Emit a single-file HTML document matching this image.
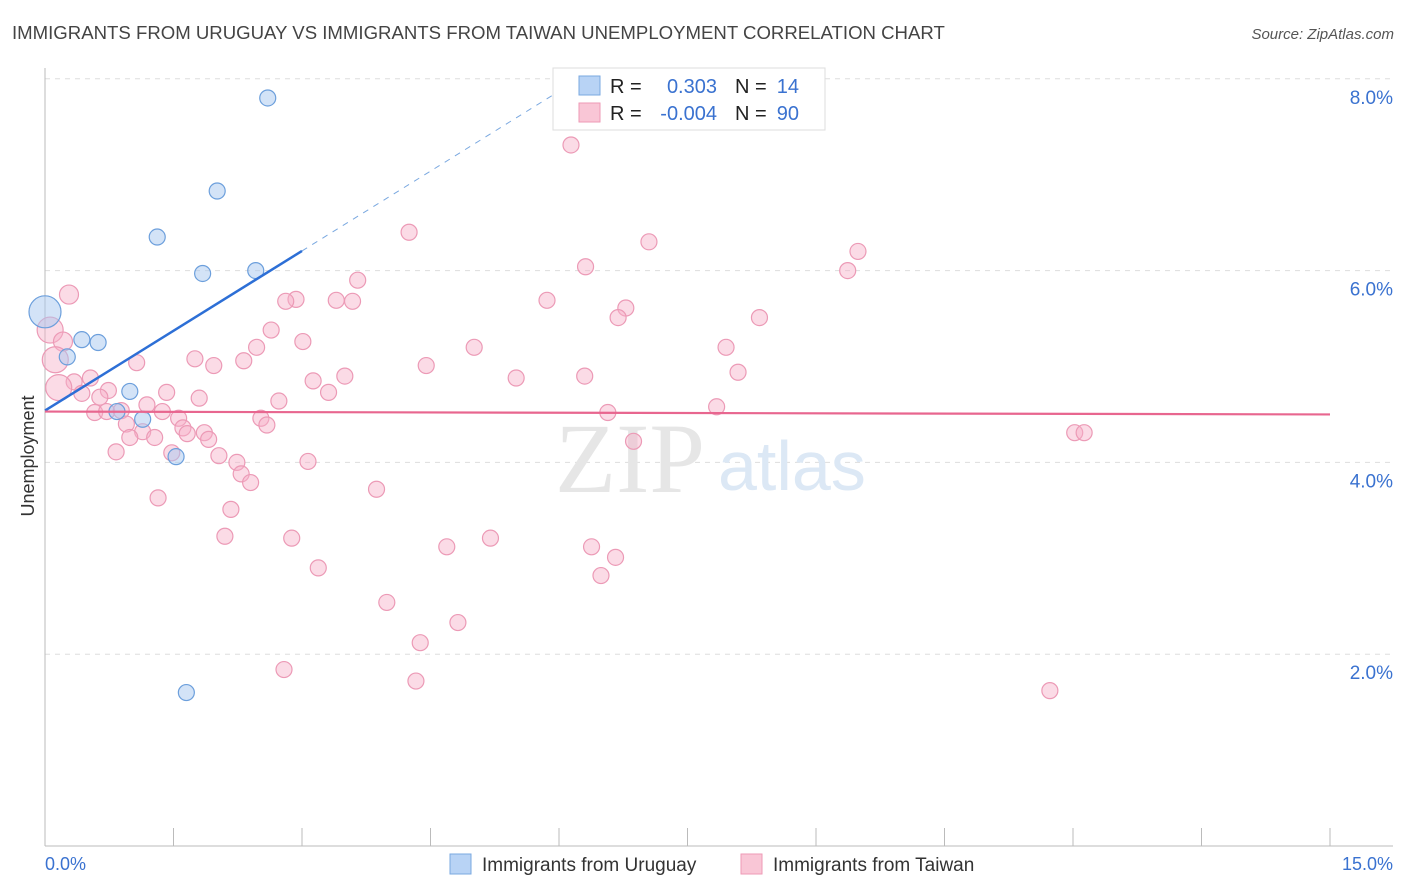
<!DOCTYPE html>
<html><head><meta charset="utf-8"><style>
body{margin:0;background:#fff;font-family:"Liberation Sans",sans-serif;}
svg{display:block}
</style></head><body>
<svg id="chart" width="1406" height="892">
<text x="12" y="39" font-size="18.6" fill="#444">IMMIGRANTS FROM URUGUAY VS IMMIGRANTS FROM TAIWAN UNEMPLOYMENT CORRELATION CHART</text>
<text x="1394" y="39" font-size="15" fill="#555" font-style="italic" text-anchor="end">Source: ZipAtlas.com</text>
<text transform="translate(34,456) rotate(-90)" font-size="18" fill="#333" text-anchor="middle">Unemployment</text>
<g id="grid"></g>
<text x="555" y="492" font-size="100" fill="#e6e6e6" font-family="Liberation Serif">ZIP</text>
<text x="718" y="490" font-size="70" fill="#dce8f5">atlas</text>
<g id="marks"></g>
<g id="lines"></g>
<g>
<rect x="553" y="68" width="272" height="62" fill="#fff" stroke="#ddd"/>
<rect x="579" y="76" width="21" height="19" fill="#b8d3f5" stroke="#7aa8e0"/>
<rect x="579" y="103" width="21" height="19" fill="#f9c6d6" stroke="#ee9ab6"/>
<text x="610" y="93" font-size="20" fill="#222">R = </text><text x="717" y="93" font-size="20" fill="#3a72d0" text-anchor="end">0.303</text>
<text x="735" y="93" font-size="20" fill="#222">N = </text><text x="799" y="93" font-size="20" fill="#3a72d0" text-anchor="end">14</text>
<text x="610" y="120" font-size="20" fill="#222">R = </text><text x="717" y="120" font-size="20" fill="#3a72d0" text-anchor="end">-0.004</text>
<text x="735" y="120" font-size="20" fill="#222">N = </text><text x="799" y="120" font-size="20" fill="#3a72d0" text-anchor="end">90</text>
</g>
<g>
<rect x="450" y="854" width="21" height="20" fill="#b8d3f5" stroke="#7aa8e0"/>
<text x="482" y="871" font-size="19" fill="#333">Immigrants from Uruguay</text>
<rect x="741" y="854" width="21" height="20" fill="#f9c6d6" stroke="#ee9ab6"/>
<text x="773" y="871" font-size="19" fill="#333">Immigrants from Taiwan</text>
</g>
</svg>
<script>
const xTicks=[0,1.5,3,4.5,6,7.5,9,10.5,12,13.5,15];
const yTicks=[2,4,6,8];
const yTickLabels=["2.0%","4.0%","6.0%","8.0%"];
const uruguayX=[2.60,2.01,1.31,1.84,2.46,0,0.43,0.62,0.26,0.99,0.84,1.14,1.53,1.65];
const uruguayY=[7.80,6.83,6.35,5.97,6.00,5.57,5.28,5.25,5.10,4.74,4.53,4.45,4.06,1.60];
const uruguaySize=[8,8,8,8,8,16,8,8,8,8,8,8,8,8];
const taiwanX=[6.14,4.25,7.05,9.49,6.31,9.37,3.65,0.28,2.93,2.81,3.40,3.59,5.86,6.78,6.69,8.34,2.64,0.06,3.01,2.47,5.01,7.95,0.21,1.75,2.32,1.07,1.97,4.45,0.12,8.09,3.50,6.30,5.50,3.13,0.53,0.34,3.31,0.74,1.42,0.16,0.43,0.64,1.80,2.73,1.19,7.84,0.58,0.72,0.89,1.37,6.57,1.56,2.52,2.59,0.95,1.61,1.14,1.66,1.86,0.99,1.28,1.91,12.02,12.13,6.87,0.83,1.48,2.03,3.07,2.24,2.29,2.40,3.87,1.32,2.17,2.10,2.88,5.20,4.69,6.38,6.66,3.19,6.49,3.99,4.82,4.38,2.79,4.33,11.73];
const taiwanY=[7.31,6.40,6.30,6.20,6.04,6.00,5.90,5.75,5.70,5.68,5.69,5.68,5.69,5.61,5.51,5.51,5.38,5.38,5.26,5.20,5.20,5.20,5.26,5.08,5.06,5.04,5.01,5.01,5.07,4.94,4.90,4.90,4.88,4.85,4.88,4.84,4.73,4.75,4.73,4.78,4.72,4.68,4.67,4.64,4.60,4.58,4.52,4.53,4.54,4.53,4.52,4.46,4.46,4.39,4.40,4.36,4.32,4.30,4.31,4.26,4.26,4.24,4.31,4.31,4.22,4.11,4.10,4.07,4.01,4.00,3.88,3.79,3.72,3.63,3.51,3.23,3.21,3.21,3.12,3.12,3.01,2.90,2.82,2.54,2.33,2.12,1.84,1.72,1.62];
const taiwanLarge=[17,28,39];
const taiwanMedium=[7,22];
const uruguayLine=[4.54,0.555];
const taiwanLine=[4.53,-0.002];
const NS="http://www.w3.org/2000/svg";
const X=v=>45+v*(1285/15), Y=v=>846-v*95.9;
function mk(t,a,p){const e=document.createElementNS(NS,t);for(const k in a)e.setAttribute(k,a[k]);p.appendChild(e);return e;}
const grid=document.getElementById('grid'),marks=document.getElementById('marks'),lines=document.getElementById('lines');
yTicks.forEach((v,i)=>{
 const g=mk('line',{x1:45,x2:1393,y1:Y(v),y2:Y(v),stroke:'#ddd','stroke-dasharray':'5,5'},grid);
 
 
 const t=mk('text',{x:1393,y:Y(v)+25,'font-size':19,fill:'#3a72d0','text-anchor':'end'},grid);
 t.textContent=yTickLabels[i];
 
 
});
const ax=mk('line',{x1:45,x2:45,y1:68,y2:846,stroke:'#bbb'},grid);


const bx=mk('line',{x1:45,x2:1393,y1:846,y2:846,stroke:'#bbb'},grid);


xTicks.forEach(v=>{
 const t=mk('line',{x1:X(v),x2:X(v),y1:828,y2:846,stroke:'#bbb'},grid);
 
 
});
const xl0=mk('text',{x:45,y:870,'font-size':18,fill:'#3a72d0'},grid);xl0.textContent=xTicks[0].toFixed(1)+'%';


const xl1=mk('text',{x:1393,y:870,'font-size':18,fill:'#3a72d0','text-anchor':'end'},grid);xl1.textContent=xTicks[xTicks.length-1].toFixed(1)+'%';


taiwanX.forEach((x,i)=>{
 const r=taiwanLarge.includes(i)?13:(taiwanMedium.includes(i)?9.5:8);
 const c=mk('circle',{cx:X(x),cy:Y(taiwanY[i]),r:r,fill:'rgba(246,176,200,0.45)',stroke:'#ec9ab6','stroke-width':1.2},marks);
 
 
});
uruguayX.forEach((x,i)=>{
 const c=mk('circle',{cx:X(x),cy:Y(uruguayY[i]),r:uruguaySize[i],fill:'rgba(168,200,240,0.5)',stroke:'#6c9fdc','stroke-width':1.2},marks);
 
 
});
const ub=(x)=>uruguayLine[0]+uruguayLine[1]*x;
const l1=mk('line',{x1:X(0),y1:Y(ub(0)),x2:X(3.0),y2:Y(ub(3.0)),stroke:'#2d6fd6','stroke-width':2.5},lines);


const l2=mk('line',{x1:X(3.0),y1:Y(ub(3.0)),x2:X(6.14),y2:Y(ub(6.14)),stroke:'#7aa8e0','stroke-width':1,'stroke-dasharray':'6,6'},lines);


const tb=(x)=>taiwanLine[0]+taiwanLine[1]*x;
const l3=mk('line',{x1:X(0),y1:Y(tb(0)),x2:X(15),y2:Y(tb(15)),stroke:'#e8668f','stroke-width':2.2},lines);


</script>
</body></html>
